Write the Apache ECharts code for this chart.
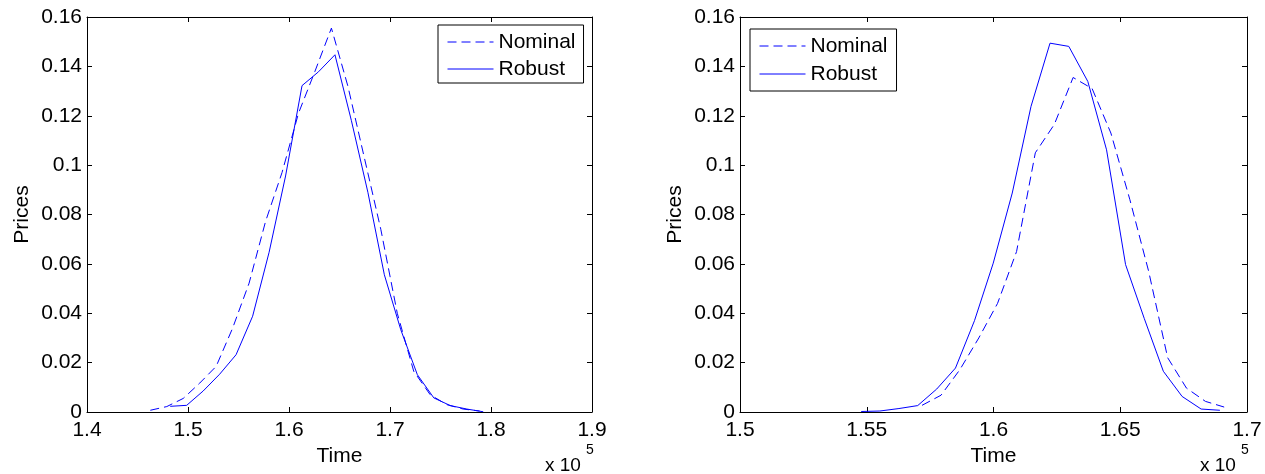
<!DOCTYPE html>
<html>
<head>
<meta charset="utf-8">
<script src="https://cdn.jsdelivr.net/npm/echarts@6/dist/echarts.min.js"></script>
<style>
  html, body { margin: 0; padding: 0; background: #fff; }
  #chart { width: 1265px; height: 474px; }
</style>
</head>
<body>
<div id="chart"></div>
<script>
// left panel
const leftNominalTime = [146270, 147900, 149530, 151160, 152790, 154420, 156050, 157680, 159310, 160940, 162570,
  164200, 165830, 167460, 169090, 170720, 172350, 173980, 175610, 177240, 178870];
const leftNominalPrice = [0.0007, 0.0022, 0.0055, 0.0117, 0.0185, 0.0340, 0.0522, 0.0772, 0.0970, 0.1210, 0.1380,
  0.1555, 0.1320, 0.1030, 0.0740, 0.0400, 0.0165, 0.0070, 0.0030, 0.0012, 0.0004];
const leftRobustTime = [148240, 149870, 151500, 153130, 154760, 156400, 158030, 159660, 161290, 162920,
  164550, 166180, 167810, 169440, 171070, 172710, 174340, 175970, 177600, 179230];
const leftRobustPrice = [0.0023, 0.0027, 0.0085, 0.0153, 0.0232, 0.0388, 0.0647, 0.0956, 0.1322, 0.1378,
  0.1447, 0.1180, 0.0890, 0.0556, 0.0333, 0.0151, 0.0057, 0.0026, 0.0012, 0.0001];

// right panel
const rightNominalTime = [157180, 157930, 158670, 159420, 160160, 160910, 161650, 162400, 163140, 163890,
  164630, 165380, 166120, 166870, 167610, 168360, 169100];
const rightNominalPrice = [0.0027, 0.0068, 0.0171, 0.0300, 0.0440, 0.0650, 0.1050, 0.1165, 0.1355, 0.1310,
  0.1130, 0.0860, 0.0570, 0.0220, 0.0097, 0.0043, 0.0020];
const rightRobustTime = [154780, 155520, 156270, 157010, 157760, 158500, 159250, 159990, 160740, 161480,
  162230, 162970, 163720, 164460, 165210, 165950, 166700, 167440, 168190, 168930];
const rightRobustPrice = [0.0002, 0.0004, 0.0014, 0.0026, 0.0093, 0.0178, 0.0370, 0.0603, 0.0887, 0.1238,
  0.1494, 0.1481, 0.1339, 0.1062, 0.0597, 0.0378, 0.0165, 0.0063, 0.0012, 0.0007];

// axis ranges and tick steps
const leftTimeAxis = { min: 140000, max: 190000, interval: 10000 };
const rightTimeAxis = { min: 150000, max: 170000, interval: 5000 };
const priceAxis = { min: 0, max: 0.16, interval: 0.02 };

const FONT = "'Liberation Sans', Arial, sans-serif";
const BLUE = '#0000ff';

const zip = (xs, ys) => xs.map((x, i) => [x, ys[i]]);

const chart = echarts.init(document.getElementById('chart'));

const grids = [
  { left: 87, top: 17, width: 505, height: 395 },
  { left: 740, top: 17, width: 507, height: 395 }
];

function xAxisFor(gi, range, pos) {
  const main = pos === 'bottom';
  return {
    type: 'value', gridIndex: gi, position: pos,
    min: range.min, max: range.max, interval: range.interval,
    name: main ? 'Time' : '', nameLocation: 'middle', nameGap: 29,
    nameTextStyle: { fontFamily: FONT, fontSize: 21, color: '#000' },
    axisLine: { show: true, onZero: false, lineStyle: { color: '#000', width: 1 } },
    axisTick: { show: true, inside: true, length: 5, lineStyle: { color: '#000' } },
    axisLabel: {
      show: main, margin: 8, fontFamily: FONT, fontSize: 21, color: '#000',
      formatter: v => String(+(v / 1e5).toFixed(3))
    },
    splitLine: { show: false }
  };
}

function yAxisFor(gi, pos) {
  const main = pos === 'left';
  return {
    type: 'value', gridIndex: gi, position: pos,
    min: priceAxis.min, max: priceAxis.max, interval: priceAxis.interval,
    name: main ? 'Prices' : '', nameLocation: 'middle', nameGap: 54, nameRotate: 90,
    nameTextStyle: { fontFamily: FONT, fontSize: 21, color: '#000' },
    axisLine: { show: true, onZero: false, lineStyle: { color: '#000', width: 1 } },
    axisTick: { show: true, inside: true, length: 5, lineStyle: { color: '#000' } },
    axisLabel: {
      show: main, margin: 5, fontFamily: FONT, fontSize: 21, color: '#000',
      formatter: v => String(+v.toFixed(2))
    },
    splitLine: { show: false }
  };
}

function lineSeries(name, xi, yi, data, dashed) {
  return {
    name: name, type: 'line', xAxisIndex: xi, yAxisIndex: yi,
    data: data, symbol: 'none', showSymbol: false, smooth: false,
    lineStyle: { color: BLUE, width: 1, type: dashed ? [9, 5] : 'solid' },
    itemStyle: { color: BLUE },
    emphasis: { disabled: true }
  };
}

function legendAt(left, top, gap, padding) {
  return {
    orient: 'vertical', left: left, top: top,
    data: ['Nominal', 'Robust'],
    itemWidth: 46, itemHeight: 14, itemGap: gap,
    padding: padding,
    borderColor: '#000', borderWidth: 1, backgroundColor: '#fff',
    selectedMode: false,
    // hide the symbol, keep only a thin line sample
    itemStyle: { opacity: 0 },
    lineStyle: { width: 1 },
    textStyle: { fontFamily: FONT, fontSize: 21, color: '#000', lineHeight: 22 }
  };
}

const option = {
  animation: false,
  backgroundColor: '#fff',
  grid: grids.map(g => Object.assign({ containLabel: false, outerBoundsMode: 'none' }, g)),
  xAxis: [
    xAxisFor(0, leftTimeAxis, 'bottom'),
    xAxisFor(0, leftTimeAxis, 'top'),
    xAxisFor(1, rightTimeAxis, 'bottom'),
    xAxisFor(1, rightTimeAxis, 'top')
  ],
  yAxis: [
    yAxisFor(0, 'left'),
    yAxisFor(0, 'right'),
    yAxisFor(1, 'left'),
    yAxisFor(1, 'right')
  ],
  legend: [
    legendAt(438, 25, 5, [6, 8, 3, 9]),
    legendAt(750, 29, 6, [6, 9, 6, 9])
  ],
  series: [
    lineSeries('Nominal', 0, 0, zip(leftNominalTime, leftNominalPrice), true),
    lineSeries('Robust', 0, 0, zip(leftRobustTime, leftRobustPrice), false),
    lineSeries('Nominal', 2, 2, zip(rightNominalTime, rightNominalPrice), true),
    lineSeries('Robust', 2, 2, zip(rightRobustTime, rightRobustPrice), false)
  ],
  graphic: [
    { type: 'text', left: 545, top: 456, style: { text: 'x 10', font: '19px ' + FONT, fill: '#000' } },
    { type: 'text', left: 586, top: 443, style: { text: '5', font: '14px ' + FONT, fill: '#000' } },
    { type: 'text', left: 1200, top: 456, style: { text: 'x 10', font: '19px ' + FONT, fill: '#000' } },
    { type: 'text', left: 1241, top: 443, style: { text: '5', font: '14px ' + FONT, fill: '#000' } }
  ]
};

chart.setOption(option);
</script>
</body>
</html>
